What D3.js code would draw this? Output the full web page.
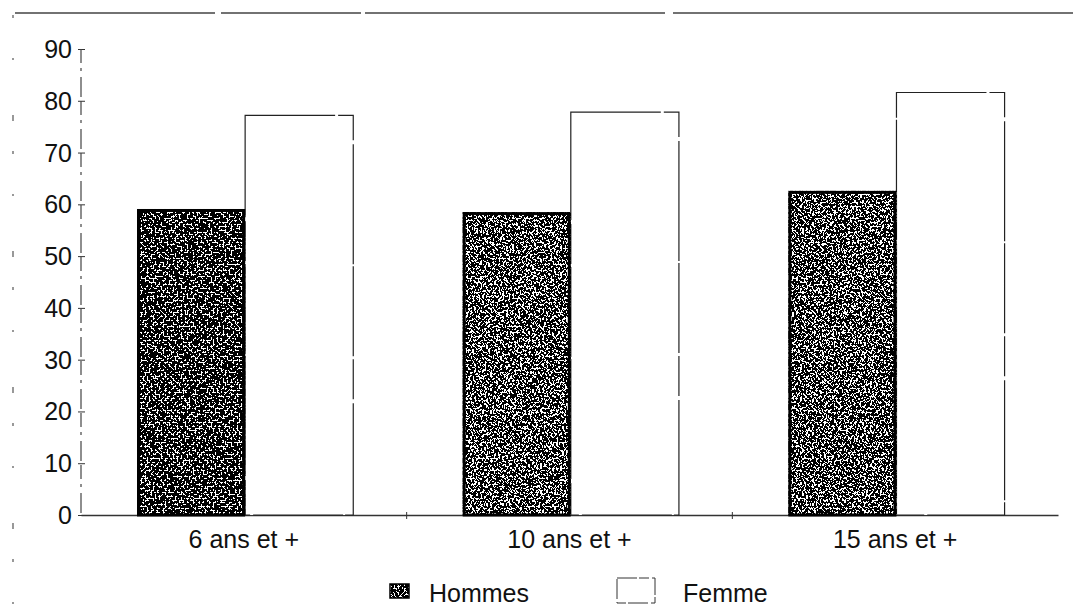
<!DOCTYPE html>
<html>
<head>
<meta charset="utf-8">
<title>Hommes / Femme par groupe d'âge</title>
<script src="https://d3js.org/d3.v7.min.js"></script>
<style>
    body { margin: 0; background: #fff; }
    svg text { font-family: "Liberation Sans", Arial, sans-serif; fill: #111; }
</style>
</head>
<body>
<div id="chart"></div>
<script>
// Data
const categories = ["6 ans et +", "10 ans et +", "15 ans et +"];
const series = ["Hommes", "Femme"];
const hommes = [59.1, 58.5, 62.6];
const femme = [77.2, 77.8, 81.6];
const yTicks = [0, 10, 20, 30, 40, 50, 60, 70, 80, 90];

const width = 1085, height = 608;
const margin = {left: 81, right: 27, top: 49, bottom: 93};

const svg = d3.select("#chart").append("svg")
    .attr("width", width)
    .attr("height", height);

// speckled texture for the Hommes bars (scanned grey screen)
const defs = svg.append("defs");
const f = defs.append("filter").attr("id", "speckle")
    .attr("x", 0).attr("y", 0).attr("width", 1).attr("height", 1);
f.append("feTurbulence").attr("type", "fractalNoise")
    .attr("baseFrequency", 0.5).attr("numOctaves", 3).attr("seed", 7).attr("result", "n");
f.append("feColorMatrix").attr("in", "n").attr("type", "matrix")
    .attr("values", "1 0 0 0 0  1 0 0 0 0  1 0 0 0 0  0 0 0 0 1").attr("result", "g");
const ct = f.append("feComponentTransfer").attr("in", "g").attr("result", "bw");
const table = "0 0 0 0 0 0 0 0 0 0 0 1 1 1 1 1 1 1 1 1";
["feFuncR", "feFuncG", "feFuncB"].forEach(fn => ct.append(fn).attr("type", "discrete").attr("tableValues", table));
f.append("feComposite").attr("in", "bw").attr("in2", "SourceAlpha").attr("operator", "in");

// scanned page frame
svg.append("line")
    .attr("x1", 15).attr("x2", width).attr("y1", 13).attr("y2", 13)
    .attr("stroke", "#444").attr("stroke-width", 1.5)
    .attr("stroke-dasharray", "200 6 140 4 300 8 400");
svg.append("line")
    .attr("x1", 13).attr("x2", 13).attr("y1", 15).attr("y2", height)
    .attr("stroke", "#555").attr("stroke-width", 1.2)
    .attr("stroke-dasharray", "3 40 2 55 6 30");

const x = d3.scaleBand()
    .domain(categories)
    .range([margin.left, width - margin.right])
    .padding(0);

const x1 = d3.scaleBand()
    .domain(series)
    .range([x.bandwidth() * 0.172, x.bandwidth() * 0.836])
    .padding(0);

const y = d3.scaleLinear()
    .domain([0, 90])
    .range([height - margin.bottom, margin.top]);

// y axis
const yAxis = svg.append("g")
    .attr("transform", `translate(${margin.left},0)`)
    .call(d3.axisLeft(y).tickValues(yTicks).tickSize(4).tickPadding(5));
yAxis.select(".domain").remove();
yAxis.selectAll(".tick line").attr("x1", -3).attr("x2", 4).attr("stroke", "#333");
yAxis.selectAll(".tick text").style("font-size", "25px").attr("dy", "0.34em").style("fill", "#111");
yAxis.append("line")
    .attr("x1", 0).attr("x2", 0).attr("y1", y(90)).attr("y2", y(0))
    .attr("stroke", "#444").attr("stroke-width", 1.2)
    .attr("stroke-dasharray", "14 5 3 6 20 4");

// x axis
const xAxis = svg.append("g")
    .attr("transform", `translate(0,${y(0)})`)
    .call(d3.axisBottom(x).tickSize(0).tickPadding(15));
xAxis.select(".domain").attr("stroke", "#333").attr("stroke-width", 1.3);
xAxis.selectAll(".tick text").style("font-size", "25px").style("fill", "#111");
xAxis.selectAll(".sep")
    .data(categories.slice(1))
    .enter().append("line")
    .attr("x1", d => x(d)).attr("x2", d => x(d))
    .attr("y1", -3).attr("y2", 4)
    .attr("stroke", "#333");

// bars
const rows = categories.map((c, i) => ({cat: c, Hommes: hommes[i], Femme: femme[i]}));
const groups = svg.append("g").selectAll("g")
    .data(rows)
    .enter().append("g")
    .attr("transform", d => `translate(${x(d.cat)},0)`);

// Femme: white bars, thin broken outline
groups.append("rect")
    .attr("x", x1("Femme"))
    .attr("y", d => y(d.Femme))
    .attr("width", x1.bandwidth())
    .attr("height", d => y(0) - y(d.Femme))
    .attr("fill", "#fff")
    .attr("stroke", "#222").attr("stroke-width", 1.2)
    .attr("stroke-dasharray", "90 3 40 4 120 2");

// Hommes: speckled fill, heavy black outline
groups.append("rect")
    .attr("x", x1("Hommes"))
    .attr("y", d => y(d.Hommes))
    .attr("width", x1.bandwidth())
    .attr("height", d => y(0) - y(d.Hommes))
    .attr("fill", "#000")
    .attr("filter", "url(#speckle)");
groups.append("rect")
    .attr("x", x1("Hommes") + 1.5)
    .attr("y", d => y(d.Hommes) + 1.5)
    .attr("width", x1.bandwidth() - 3)
    .attr("height", d => y(0) - y(d.Hommes) - 1.5)
    .attr("fill", "none")
    .attr("stroke", "#000").attr("stroke-width", 3);

// legend
const legend = svg.append("g");
legend.append("rect")
    .attr("x", 390).attr("y", 584).attr("width", 19).attr("height", 14)
    .attr("fill", "#000").attr("filter", "url(#speckle)");
legend.append("rect")
    .attr("x", 390).attr("y", 584).attr("width", 19).attr("height", 14)
    .attr("fill", "none").attr("stroke", "#000").attr("stroke-width", 1.5);
legend.append("text")
    .attr("x", 429).attr("y", 602)
    .style("font-size", "25px")
    .text(series[0]);
legend.append("rect")
    .attr("x", 617).attr("y", 578).attr("width", 38).attr("height", 25)
    .attr("fill", "#fff").attr("stroke", "#333").attr("stroke-width", 1)
    .attr("stroke-dasharray", "20 2 10 3");
legend.append("text")
    .attr("x", 683).attr("y", 602)
    .style("font-size", "25px")
    .text(series[1]);
</script>
</body>
</html>
